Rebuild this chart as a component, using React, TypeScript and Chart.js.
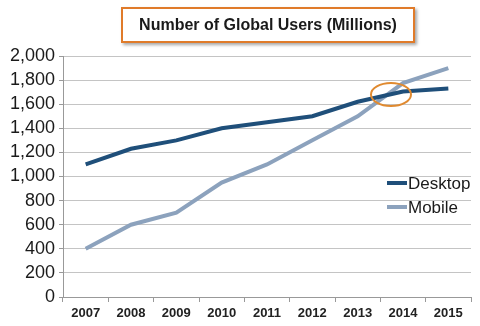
import React, { useEffect, useRef } from "react";
import { Chart, registerables } from "chart.js";

Chart.register(...registerables);

const years = ["2007", "2008", "2009", "2010", "2011", "2012", "2013", "2014", "2015"];
const desktop = [1100, 1230, 1300, 1400, 1450, 1500, 1620, 1705, 1730];
const mobile = [400, 600, 700, 950, 1100, 1300, 1500, 1775, 1900];
const titleText = "Number of Global Users (Millions)";
const highlightYear = "2014";
const highlightValue = 1680;

const FONT = "'Liberation Sans', Arial, sans-serif";

const legendPlugin = {
  id: "insideLegend",
  afterDatasetsDraw(chart: any) {
    const ctx = chart.ctx;
    ctx.save();
    const x0 = 387;
    const y0 = 183;
    chart.data.datasets.forEach((ds: any, i: number) => {
      const y = y0 + i * 24;
      ctx.strokeStyle = ds.borderColor;
      ctx.lineWidth = 4;
      ctx.beginPath();
      ctx.moveTo(x0, y);
      ctx.lineTo(x0 + 20, y);
      ctx.stroke();
      ctx.fillStyle = "#1a1a1a";
      ctx.font = `17px ${FONT}`;
      ctx.textBaseline = "middle";
      ctx.textAlign = "left";
      ctx.fillText(ds.label, x0 + 21, y + 1);
    });
    // highlight ellipse
    const xs = chart.scales.x;
    const ys = chart.scales.y;
    const cx = xs.getPixelForValue(years.indexOf(highlightYear)) - 12;
    const cy = ys.getPixelForValue(highlightValue);
    ctx.strokeStyle = "#e08a30";
    ctx.lineWidth = 2;
    ctx.beginPath();
    ctx.ellipse(cx, cy, 20, 11.5, 0, 0, Math.PI * 2);
    ctx.stroke();
    ctx.restore();
  },
};

export default function App() {
  const ref = useRef<HTMLCanvasElement>(null);
  useEffect(() => {
    document.body.style.margin = "0";
    const chart = new Chart(ref.current!, {
      type: "line",
      data: {
        labels: years,
        datasets: [
          {
            label: "Desktop",
            data: desktop,
            borderColor: "#1f4f7a",
            borderWidth: 4,
            pointRadius: 0,
            tension: 0,
          },
          {
            label: "Mobile",
            data: mobile,
            borderColor: "#8ca2bd",
            borderWidth: 4,
            pointRadius: 0,
            tension: 0,
          },
        ],
      },
      options: {
        animation: false,
        responsive: false,
        maintainAspectRatio: false,
        layout: { padding: { top: 56, right: 9, left: 0, bottom: 0 } },
        plugins: { legend: { display: false }, title: { display: false }, tooltip: { enabled: false } },
        scales: {
          x: {
            offset: true,
            grid: { display: true, drawOnChartArea: false, drawTicks: true, tickLength: 5, color: "#999", offset: true },
            border: { display: true, color: "#999", width: 1 },
            ticks: { font: { family: FONT, size: 13, weight: "bold" }, color: "#222", padding: 4, autoSkip: false, maxRotation: 0 },
            afterFit: (s: any) => { s.height = 29; },
          },
          y: {
            min: 0,
            max: 2000,
            ticks: {
              stepSize: 200,
              autoSkip: false,
              font: { family: FONT, size: 18 },
              color: "#1a1a1a",
              padding: 4,
              callback: (v: any) => Number(v).toLocaleString("en-US"),
            },
            grid: { color: "#c4c4c4", drawTicks: true, tickLength: 4, lineWidth: 1, tickColor: "#999" },
            border: { display: true, color: "#999" },
            afterFit: (s: any) => { s.width = 63; },
          },
        },
      },
      plugins: [legendPlugin],
    } as any);
    return () => chart.destroy();
  }, []);
  return (
    <div style={{ position: "relative", width: 480, height: 326, background: "#fff" }}>
      <canvas ref={ref} width={480} height={326} style={{ display: "block" }} />
      <div
        style={{
          position: "absolute",
          left: 121,
          top: 7,
          width: 294,
          height: 36,
          border: "2px solid #e07b2a",
          boxShadow: "2px 2px 3px rgba(0,0,0,0.35)",
          background: "#fff",
          display: "flex",
          alignItems: "center",
          justifyContent: "center",
          fontFamily: FONT,
          fontWeight: "bold",
          fontSize: 16,
          color: "#1a1a1a",
          boxSizing: "border-box",
        }}
      >
        {titleText}
      </div>
    </div>
  );
}
